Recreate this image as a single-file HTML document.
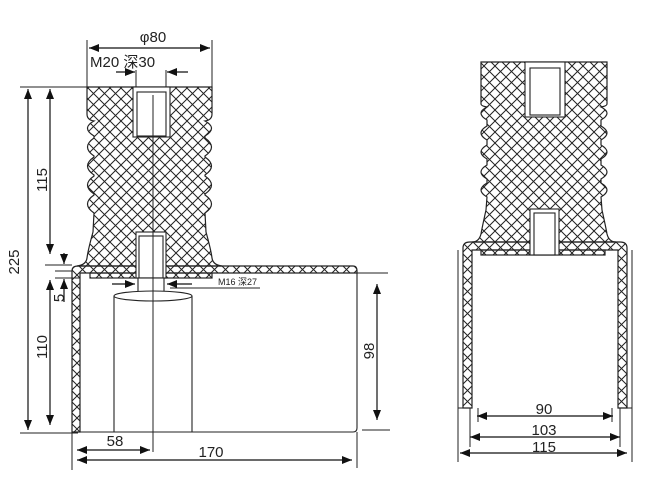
<!DOCTYPE html>
<html><head><meta charset="utf-8"><style>
html,body{margin:0;padding:0;background:#fff;}
svg{display:block;}
text{font-family:"Liberation Sans","Noto Sans CJK SC",sans-serif;fill:#222;}
</style></head><body>
<svg width="652" height="483" viewBox="0 0 652 483" xmlns="http://www.w3.org/2000/svg">
<defs>
<pattern id="h" width="11" height="11" patternUnits="userSpaceOnUse">
<path d="M0,0L11,11M11,0L0,11M-1,10L1,12M10,-1L12,1M-1,1L1,-1M10,12L12,10" stroke="#222" stroke-width="1" fill="none"/>
</pattern>
<marker id="a" viewBox="0 0 10 8" refX="10" refY="4" markerWidth="11" markerHeight="8" markerUnits="userSpaceOnUse" orient="auto-start-reverse">
<path d="M0,0L10,4L0,8Z" fill="#111"/>
</marker>
</defs>
<g stroke="#222" stroke-width="1.2" fill="url(#h)">
<path d="M87,87H212V114Q212,120 205,121Q218,128 205,136L205,138Q218,147 205,156L205,157Q218,166 205,175L205,176Q218,185 205,194L205,195Q218,204 205,213L206,232Q211,250 212,258Q213,265 222,266H77Q86,265 87,258Q88,250 93,232L94,213Q81,204 94,195L94,194Q81,185 94,176L94,175Q81,166 94,157L94,156Q81,147 94,138L94,136Q81,128 94,121Q87,120 87,114Z"/>
<path d="M72,271Q72,266 78,266H353Q357,266 357,271V273H80V432H72Z"/>
<rect x="90" y="273" width="122" height="5"/>
<path d="M481,62H607V104Q607,106 601,107Q613,113 601,120L601,126Q613,133 601,140L601,145Q613,152 601,159L601,165Q613,172 601,179L601,183Q613,190 601,197L602,210Q606,228 607,234Q609,242 616,242H472Q479,242 481,234Q482,228 486,210L487,197Q475,190 487,183L487,179Q475,172 487,165L487,159Q475,152 487,145L487,140Q475,133 487,126L487,120Q475,113 487,107Q481,106 481,104Z"/>
<path d="M463,248Q463,242 470,242H620Q627,242 627,248V408H618V250H472V408H463Z"/>
<rect x="481" y="250" width="124" height="5"/>
</g>
<g stroke="#222" stroke-width="1.1" fill="#fff">
<rect x="133" y="87" width="37" height="50"/>
<rect x="137" y="92" width="29" height="44" fill="none"/>
<rect x="136" y="232" width="30" height="46"/>
<rect x="139" y="236" width="24" height="42" fill="none"/>
<rect x="525" y="62" width="40" height="55"/>
<rect x="530" y="68" width="30" height="47" fill="none"/>
<rect x="530" y="209" width="29" height="46"/>
<rect x="534" y="213" width="21" height="42" fill="none"/>
<rect x="138" y="278" width="26" height="14"/>
<path d="M114,296V432M192,296V432" fill="none"/>
<ellipse cx="153" cy="296" rx="39" ry="5"/>
<path d="M80,432H353Q357,432 357,428V273" fill="none"/>
</g>
<g stroke="#222" stroke-width="1" fill="none">
<path d="M153,95V452"/>
<path d="M87,40V87M212,40V87M136,70V87M166,70V87"/>
<path d="M20,87H88M20,433H78M45,265H72M55,271H72M55,278H80"/>
<path d="M357,273H388M362,430H390M72,432V470M357,432V468"/>
<path d="M170,288H260"/>
<path d="M458,250V462M632,250V462M458,408H472M618,408H632M470,408V447M620,408V447M478,408V422M612,408V422"/>
</g>
<g stroke="#111" stroke-width="1.2" fill="none" marker-end="url(#a)" marker-start="url(#a)">
<path d="M89,48H210"/>
<path d="M28,89V430"/>
<path d="M50,89V254"/>
<path d="M50,280V425"/>
<path d="M377,284V420"/>
<path d="M77,450H150"/>
<path d="M77,460H352"/>
<path d="M477,416H613"/>
<path d="M470,437H620"/>
<path d="M460,453H627"/>
</g>
<g stroke="#111" stroke-width="1.2" fill="none" marker-end="url(#a)">
<path d="M116,72H135"/>
<path d="M188,72H167"/>
<path d="M112,284H135"/>
<path d="M192,284H167"/>
<path d="M64,253V264"/>
<path d="M64,302V279"/>
</g>
<g font-size="15">
<text x="153" y="42" text-anchor="middle">φ80</text>
<text x="90" y="67">M20 深30</text>
<text x="115" y="446" text-anchor="middle">58</text>
<text x="211" y="457" text-anchor="middle">170</text>
<text x="544" y="414" text-anchor="middle">90</text>
<text x="544" y="435" text-anchor="middle">103</text>
<text x="544" y="452" text-anchor="middle">115</text>
<text transform="translate(19,262) rotate(-90)" text-anchor="middle">225</text>
<text transform="translate(47,180) rotate(-90)" text-anchor="middle">115</text>
<text transform="translate(47,347) rotate(-90)" text-anchor="middle">110</text>
<text transform="translate(374,351) rotate(-90)" text-anchor="middle">98</text>
<text transform="translate(64,298) rotate(-90)" text-anchor="middle">5</text>
</g>
<text x="218" y="285" font-size="9">M16 深27</text>
</svg>
</body></html>
